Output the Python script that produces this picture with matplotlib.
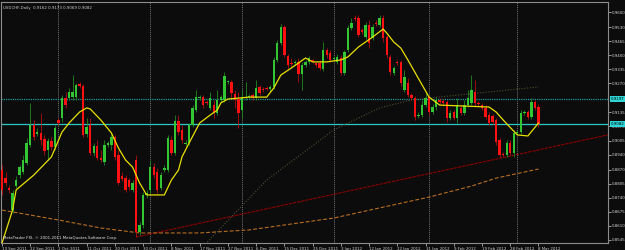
import numpy as np
import matplotlib.pyplot as plt

plt.rcParams['font.family'] = ['DejaVu Sans']
plt.rcParams['font.stretch'] = 'condensed'

# daily candles, USDCHF, 13 Sep 2011 .. 8 Mar 2012 (MT4 with sunday bars)
opens = [0.8868, 0.8831, 0.8785, 0.8683, 0.8794, 0.8845, 0.8859, 0.8901, 0.8984, 0.9077,
         0.9035, 0.9040, 0.9012, 0.8961, 0.9003, 0.8975, 0.9100, 0.9109, 0.9202, 0.9202,
         0.9206, 0.9206, 0.9267, 0.9257, 0.9035, 0.9077, 0.8947, 0.8980, 0.8924, 0.8906,
         0.8984, 0.8984, 0.9021, 0.8938, 0.8841, 0.8831, 0.8822, 0.8776, 0.8915, 0.8581,
         0.8614, 0.8753, 0.8776, 0.8882, 0.8859, 0.8785, 0.8868, 0.8868, 0.9007, 0.8947,
         0.9095, 0.9054, 0.8989, 0.8993, 0.9077, 0.9146, 0.9202, 0.9206, 0.9183, 0.9156,
         0.9169, 0.9132, 0.9193, 0.9193, 0.9276, 0.9276, 0.9220, 0.9197, 0.9146, 0.9202,
         0.9206, 0.9216, 0.9202, 0.9253, 0.9244, 0.9248, 0.9244, 0.9253, 0.9378, 0.9456,
         0.9531, 0.9396, 0.9364, 0.9364, 0.9368, 0.9313, 0.9355, 0.9368, 0.9378, 0.9364,
         0.9364, 0.9336, 0.9424, 0.9410, 0.9382, 0.9368, 0.9387, 0.9318, 0.9424, 0.9526,
         0.9572, 0.9572, 0.9517, 0.9484, 0.9540, 0.9480, 0.9549, 0.9540, 0.9572, 0.9484,
         0.9392, 0.9318, 0.9368, 0.9368, 0.9239, 0.9271, 0.9216, 0.9202, 0.9118, 0.9123,
         0.9169, 0.9206, 0.9137, 0.9160, 0.9193, 0.9188, 0.9183, 0.9109, 0.9137, 0.9109,
         0.9156, 0.9132, 0.9169, 0.9179, 0.9230, 0.9179, 0.9169, 0.9156, 0.9123, 0.9118,
         0.9100, 0.9007, 0.8943, 0.8938, 0.8993, 0.8947, 0.9040, 0.9044, 0.9132, 0.9137,
         0.9114, 0.9183, 0.9162]
highs = [0.8892, 0.8859, 0.8799, 0.8776, 0.8841, 0.8892, 0.8938, 0.9017, 0.9179, 0.9100,
         0.9063, 0.9132, 0.9031, 0.9017, 0.9021, 0.9077, 0.9109, 0.9216, 0.9230, 0.9248,
         0.9308, 0.9271, 0.9276, 0.9267, 0.9109, 0.9109, 0.8993, 0.9007, 0.8961, 0.9007,
         0.9003, 0.9040, 0.9031, 0.8961, 0.8859, 0.8845, 0.8831, 0.8822, 0.8938, 0.8628,
         0.8767, 0.8776, 0.8915, 0.8901, 0.8878, 0.8859, 0.8892, 0.9031, 0.9026, 0.9123,
         0.9123, 0.9077, 0.9007, 0.9086, 0.9169, 0.9239, 0.9216, 0.9216, 0.9193, 0.9230,
         0.9193, 0.9239, 0.9216, 0.9322, 0.9285, 0.9285, 0.9239, 0.9230, 0.9239, 0.9276,
         0.9220, 0.9225, 0.9285, 0.9262, 0.9253, 0.9257, 0.9262, 0.9392, 0.9470, 0.9544,
         0.9540, 0.9406, 0.9387, 0.9378, 0.9387, 0.9368, 0.9378, 0.9396, 0.9382, 0.9368,
         0.9378, 0.9461, 0.9433, 0.9424, 0.9396, 0.9406, 0.9401, 0.9424, 0.9540, 0.9572,
         0.9586, 0.9586, 0.9526, 0.9554, 0.9563, 0.9544, 0.9563, 0.9586, 0.9586, 0.9494,
         0.9401, 0.9350, 0.9378, 0.9378, 0.9331, 0.9294, 0.9225, 0.9211, 0.9137, 0.9193,
         0.9230, 0.9216, 0.9174, 0.9206, 0.9202, 0.9197, 0.9193, 0.9146, 0.9146, 0.9202,
         0.9169, 0.9193, 0.9239, 0.9308, 0.9285, 0.9188, 0.9179, 0.9169, 0.9137, 0.9128,
         0.9109, 0.9017, 0.8952, 0.9007, 0.9007, 0.9054, 0.9054, 0.9146, 0.9146, 0.9146,
         0.9202, 0.9193, 0.9173]
lows = [0.8753, 0.8794, 0.8762, 0.8669, 0.8785, 0.8831, 0.8850, 0.8892, 0.8975, 0.9007,
        0.9026, 0.8984, 0.8938, 0.8915, 0.8961, 0.8961, 0.9077, 0.9091, 0.9156, 0.9193,
        0.9193, 0.9193, 0.9248, 0.9021, 0.9021, 0.8938, 0.8933, 0.8915, 0.8906, 0.8892,
        0.8975, 0.8961, 0.8915, 0.8799, 0.8818, 0.8767, 0.8776, 0.8767, 0.8558, 0.8568,
        0.8600, 0.8739, 0.8762, 0.8831, 0.8762, 0.8776, 0.8859, 0.8859, 0.8938, 0.8938,
        0.9031, 0.8993, 0.8980, 0.8984, 0.9068, 0.9137, 0.9193, 0.9156, 0.9169, 0.9146,
        0.9109, 0.9123, 0.9183, 0.9183, 0.9267, 0.9202, 0.9156, 0.9063, 0.9109, 0.9193,
        0.9197, 0.9193, 0.9193, 0.9216, 0.9230, 0.9239, 0.9230, 0.9244, 0.9368, 0.9447,
        0.9392, 0.9341, 0.9350, 0.9355, 0.9276, 0.9239, 0.9345, 0.9359, 0.9364, 0.9345,
        0.9331, 0.9327, 0.9387, 0.9368, 0.9373, 0.9359, 0.9308, 0.9308, 0.9415, 0.9517,
        0.9558, 0.9484, 0.9498, 0.9475, 0.9433, 0.9470, 0.9535, 0.9531, 0.9461, 0.9387,
        0.9308, 0.9308, 0.9355, 0.9257, 0.9230, 0.9206, 0.9193, 0.9100, 0.9109, 0.9114,
        0.9160, 0.9123, 0.9128, 0.9146, 0.9174, 0.9169, 0.9091, 0.9100, 0.9100, 0.9086,
        0.9123, 0.9123, 0.9160, 0.9169, 0.9165, 0.9165, 0.9146, 0.9105, 0.9077, 0.9081,
        0.8984, 0.8929, 0.8929, 0.8929, 0.8938, 0.8929, 0.9035, 0.9035, 0.9123, 0.9105,
        0.9105, 0.9146, 0.9069]
closes = [0.8776, 0.8808, 0.8776, 0.8762, 0.8822, 0.8882, 0.8915, 0.8993, 0.9077, 0.9021,
          0.9044, 0.9007, 0.8956, 0.9003, 0.8975, 0.9063, 0.9086, 0.9202, 0.9169, 0.9230,
          0.9230, 0.9262, 0.9257, 0.9031, 0.9068, 0.8947, 0.8980, 0.8924, 0.8915, 0.8984,
          0.8993, 0.9021, 0.8929, 0.8808, 0.8827, 0.8776, 0.8790, 0.8808, 0.8581, 0.8614,
          0.8753, 0.8762, 0.8882, 0.8845, 0.8776, 0.8845, 0.8878, 0.9017, 0.8947, 0.9095,
          0.9044, 0.9007, 0.8993, 0.9077, 0.9156, 0.9206, 0.9206, 0.9169, 0.9179, 0.9202,
          0.9132, 0.9193, 0.9206, 0.9304, 0.9281, 0.9225, 0.9193, 0.9132, 0.9202, 0.9206,
          0.9211, 0.9202, 0.9248, 0.9225, 0.9239, 0.9244, 0.9253, 0.9378, 0.9456, 0.9531,
          0.9401, 0.9355, 0.9359, 0.9368, 0.9313, 0.9355, 0.9368, 0.9387, 0.9373, 0.9355,
          0.9341, 0.9424, 0.9401, 0.9378, 0.9387, 0.9392, 0.9318, 0.9415, 0.9526, 0.9549,
          0.9568, 0.9494, 0.9507, 0.9540, 0.9456, 0.9531, 0.9544, 0.9572, 0.9480, 0.9401,
          0.9322, 0.9341, 0.9364, 0.9271, 0.9299, 0.9216, 0.9202, 0.9114, 0.9123, 0.9169,
          0.9202, 0.9137, 0.9160, 0.9193, 0.9183, 0.9179, 0.9109, 0.9132, 0.9109, 0.9169,
          0.9132, 0.9169, 0.9202, 0.9239, 0.9179, 0.9174, 0.9156, 0.9114, 0.9086, 0.9091,
          0.8998, 0.8938, 0.8938, 0.8993, 0.8947, 0.9040, 0.9044, 0.9132, 0.9137, 0.9114,
          0.9183, 0.9156, 0.9082]

# yellow moving average, read at some bars
ma_idx = [0, 3, 4, 9, 14, 17, 19, 22, 24, 25, 28, 31, 33, 35, 37, 39, 41, 46, 48, 50,
          51, 53, 56, 59, 61, 62, 64, 70, 75, 77, 79, 82, 84, 86, 88, 92, 96, 98, 101, 103,
          105, 108, 109, 111, 113, 115, 121, 124, 138, 140, 142, 146, 149, 152]
ma_val = [0.8530, 0.8683, 0.8776, 0.8845, 0.8929, 0.9044, 0.9086, 0.9137, 0.9156, 0.9151,
          0.9100, 0.9040, 0.8970, 0.8915, 0.8882, 0.8808, 0.8753, 0.8753, 0.8822, 0.8868,
          0.8929, 0.8993, 0.9086, 0.9123, 0.9146, 0.9179, 0.9197, 0.9206, 0.9206, 0.9248,
          0.9308, 0.9341, 0.9364, 0.9387, 0.9369, 0.9369, 0.9378, 0.9392, 0.9438, 0.9461,
          0.9484, 0.9521, 0.9503, 0.9461, 0.9433, 0.9378, 0.9206, 0.9169, 0.9160, 0.9137,
          0.9100, 0.9031, 0.9026, 0.9086]

# long moving averages
brown_idx = [0, 16, 28, 39, 56, 70, 84, 94, 107, 121, 133, 140, 152]
brown_val = [0.8683, 0.8637, 0.8600, 0.8577, 0.8577, 0.8591, 0.8623, 0.8646, 0.8693,
             0.8743, 0.8794, 0.8831, 0.8873]
grey_idx = [56, 75, 94, 107, 116, 135, 152]
grey_val = [0.8498, 0.8822, 0.9054, 0.9156, 0.9193, 0.9225, 0.9253]

# trend line anchors and horizontal levels
trend_idx = [38, 140]
trend_val = [0.8558, 0.8919]
level_dash = 0.9197
level_solid = 0.9082

y_ticks = [0.9600, 0.9530, 0.9465, 0.9400, 0.9335, 0.9270, 0.9135, 0.9070, 0.9005,
           0.8940, 0.8870, 0.8805, 0.8740, 0.8675, 0.8610, 0.8545]
date_labels = ['13 Sep 2011', '22 Sep 2011', '2 Oct 2011', '11 Oct 2011', '20 Oct 2011',
               '30 Oct 2011', '8 Nov 2011', '17 Nov 2011', '27 Nov 2011', '6 Dec 2011',
               '15 Dec 2011', '25 Dec 2011', '3 Jan 2012', '12 Jan 2012', '22 Jan 2012',
               '31 Jan 2012', '9 Feb 2012', '19 Feb 2012', '28 Feb 2012', '8 Mar 2012']
date_idx = list(range(0, 153, 8))
month_starts = [16, 42, 68, 94, 121, 146]

bg = '#0c0c0c'
txt = '#d0d0d0'
fs = 3.2

fig = plt.figure(figsize=(6.25, 2.5), dpi=100, facecolor=bg)
ax = fig.add_axes([0.0016, 0.028, 0.9712, 0.964])
ax.set_facecolor(bg)

o = np.array(opens); h = np.array(highs); l = np.array(lows); c = np.array(closes)
x = np.arange(len(o))
up = c >= o
body_col = np.where(up, '#33c633', '#ff1111')
wick_col = np.where(up, '#1e8a1e', '#b01010')

ax.vlines(x, l, h, colors=wick_col, lw=0.6, zorder=3)
bottom = np.minimum(o, c)
height = np.maximum(np.abs(c - o), 0.00025)
ax.bar(x, height, bottom=bottom, width=0.68, color=body_col, lw=0, zorder=4)

for m in month_starts:
    ax.axvline(m, color='#9a9a9a', lw=0.5, ls=(0, (1.5, 1.5)), zorder=1)

ax.axhline(level_dash, color='#1f9a9a', lw=0.9, ls=(0, (1, 0.8)), zorder=2)
ax.axhline(level_solid, color='#2fc6c6', lw=0.9, zorder=2)

x_right = 171.7
slope = (trend_val[1] - trend_val[0]) / (trend_idx[1] - trend_idx[0])
ax.plot([trend_idx[0], x_right], [trend_val[0], trend_val[0] + slope * (x_right - trend_idx[0])],
        color='#8e0000', lw=0.8, ls=(0, (3, 0.8)), zorder=2)

ax.plot(brown_idx, brown_val, color='#b86e22', lw=0.8, ls=(0, (3.5, 1.8)), zorder=2)
ax.plot(grey_idx, grey_val, color='#4d4d33', lw=0.8, ls=(0, (1, 1.5)), zorder=2)
ax.plot(ma_idx, ma_val, color='#e8e000', lw=0.9, zorder=5)

ax.set_xlim(-0.28, x_right)
ax.set_ylim(0.85305, 0.96463)

ax.yaxis.tick_right()
ax.set_yticks(y_ticks)
ax.set_yticklabels(['%.4f' % v for v in y_ticks])
ax.set_xticks(date_idx)
ax.set_xticklabels(date_labels)
for lab in ax.get_xticklabels():
    lab.set_ha('left')
ax.tick_params(axis='both', colors=txt, labelsize=fs, length=2, width=0.5, pad=0.8)
for sp in ax.spines.values():
    sp.set_color('#8c8c8c')
    sp.set_linewidth(0.8)

tr = ax.get_yaxis_transform()
for v in (level_dash, level_solid):
    ax.text(1.005, v, '%.4f' % v, transform=tr, fontsize=fs, color='#000000',
            va='center', ha='left', zorder=10, clip_on=False,
            bbox=dict(boxstyle='square,pad=0.2', fc='#2fd6d6', ec='none'))

ax.text(0.004, 0.985, 'USDCHF,Daily  0.9162 0.9173 0.9069 0.9082', transform=ax.transAxes,
        fontsize=fs, color=txt, va='top', ha='left')
ax.text(0.004, 0.012, 'MetaTrader FXI, \u00a9 2001-2011 MetaQuotes Software Corp.',
        transform=ax.transAxes, fontsize=fs, color='#e8e8e8', va='bottom', ha='left', zorder=10)

fig.savefig('out.png', dpi=100, facecolor=bg)
